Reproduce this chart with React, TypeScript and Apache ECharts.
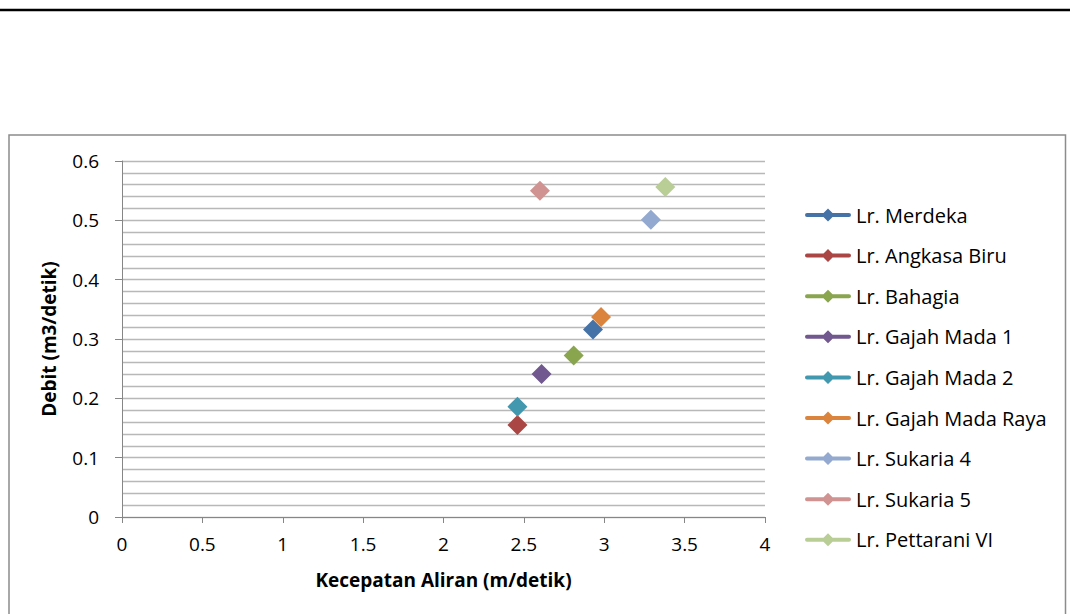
import React, { useEffect, useRef } from "react";
import * as echarts from "echarts";

const seriesNames = [
  "Lr. Merdeka",
  "Lr. Angkasa Biru",
  "Lr. Bahagia",
  "Lr. Gajah Mada 1",
  "Lr. Gajah Mada 2",
  "Lr. Gajah Mada Raya",
  "Lr. Sukaria 4",
  "Lr. Sukaria 5",
  "Lr. Pettarani VI",
];
const velocity = [2.93, 2.46, 2.81, 2.61, 2.46, 2.98, 3.29, 2.6, 3.38];
const discharge = [0.316, 0.155, 0.272, 0.241, 0.186, 0.337, 0.501, 0.55, 0.556];
const colors = [
  "#4572A7",
  "#AA4643",
  "#89A54E",
  "#71588F",
  "#4198AF",
  "#DB843D",
  "#93A9CF",
  "#D19392",
  "#B9CD96",
];

const xTitle = "Kecepatan Aliran (m/detik)";
const yTitle = "Debit (m3/detik)";

const TFONT = "'Open Sans', Lato, sans-serif";
const legendIcon =
  "path://M2,5 L44,5 A2,2 0 0 1 44,9 L2,9 A2,2 0 0 1 2,5 Z M23,0.5 L29.5,7 L23,13.5 L16.5,7 Z";

export default function App() {
  const ref = useRef<HTMLDivElement>(null);
  useEffect(() => {
    if (!ref.current) return;
    const chart = echarts.init(ref.current, undefined, { renderer: "svg" });
    chart.setOption({
      animation: false,
      backgroundColor: "#ffffff",
      graphic: [
        {
          type: "line",
          shape: { x1: 0, y1: 10, x2: 1070, y2: 10 },
          style: { stroke: "#000000", lineWidth: 2.5 },
          silent: true,
        },
        {
          type: "rect",
          shape: { x: 9, y: 135, width: 1056.5, height: 500 },
          style: { fill: "none", stroke: "#8c8c8c", lineWidth: 1.5 },
          silent: true,
          z: -1,
        },
      ],
      grid: { left: 122, right: 305, top: 161, bottom: 97, containLabel: false },
      xAxis: {
        type: "value",
        min: 0,
        max: 4,
        interval: 0.5,
        name: xTitle,
        nameLocation: "middle",
        nameGap: 53,
        nameTextStyle: { fontFamily: TFONT, fontSize: 19, fontWeight: "bold", color: "#000" },
        axisLine: { show: true, lineStyle: { color: "#868686", width: 1 } },
        axisTick: { show: true, length: 6, lineStyle: { color: "#868686" } },
        axisLabel: { margin: 17, fontFamily: TFONT, fontSize: 19, color: "#000" },
        splitLine: { show: false },
      },
      yAxis: {
        type: "value",
        min: 0,
        max: 0.6,
        interval: 0.1,
        name: yTitle,
        nameLocation: "middle",
        nameGap: 64,
        nameRotate: 90,
        nameTextStyle: { fontFamily: TFONT, fontSize: 19, fontWeight: "bold", color: "#000" },
        axisLine: { show: true, lineStyle: { color: "#868686", width: 1 } },
        axisTick: { show: true, length: 7, lineStyle: { color: "#868686" } },
        axisLabel: { margin: 23, fontFamily: TFONT, fontSize: 19, color: "#000" },
        splitLine: { show: true, lineStyle: { color: "#b8b8b8", width: 1.3 } },
        minorTick: { show: false, splitNumber: 5 },
        minorSplitLine: { show: true, lineStyle: { color: "#b8b8b8", width: 1.3 } },
      },
      legend: {
        orient: "vertical",
        left: 800,
        top: 200,
        itemWidth: 46,
        itemHeight: 14,
        itemGap: 20.6,
        icon: legendIcon,
        textStyle: { fontFamily: TFONT, fontSize: 20, color: "#000", lineHeight: 20 },
        data: seriesNames,
      },
      series: seriesNames.map((name, i) => ({
        name,
        type: "scatter",
        symbol: "diamond",
        symbolSize: [20, 20],
        itemStyle: { color: colors[i], opacity: 1 },
        data: [[velocity[i], discharge[i]]],
      })),
    });
    return () => chart.dispose();
  }, []);
  return (
    <div
      ref={ref}
      style={{ position: "fixed", left: 0, top: 0, width: 1070, height: 614 }}
    />
  );
}
